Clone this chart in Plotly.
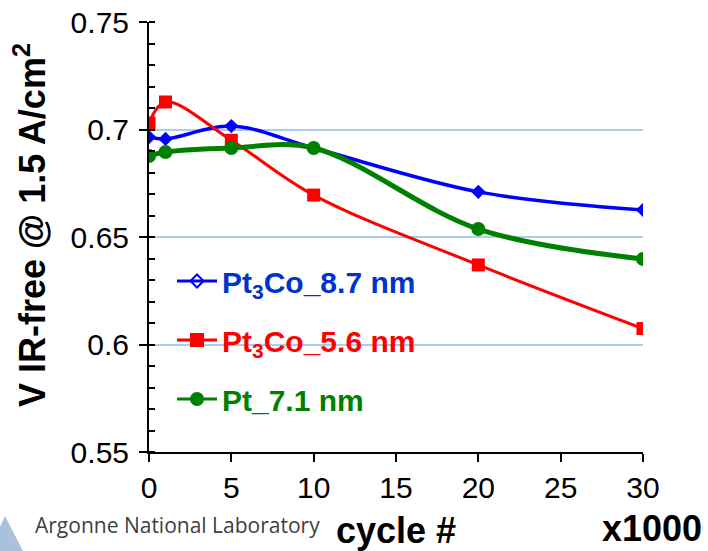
import plotly.graph_objects as go

cycles = [0, 1, 5, 10, 20, 30]
pt3co_87 = [0.6965, 0.6956, 0.7016, 0.6914, 0.6710, 0.6626]
pt3co_56 = [0.7030, 0.7128, 0.6950, 0.6695, 0.6370, 0.6074]
pt_71 = [0.6877, 0.6895, 0.6914, 0.6914, 0.6537, 0.6398]

names = ["Pt<sub>3</sub>Co_8.7 nm", "Pt<sub>3</sub>Co_5.6 nm", "Pt_7.1 nm"]
colors = ["#0000ff", "#ff0000", "#008000"]
text_colors = ["#0033cc", "#ff0000", "#008000"]

L, R, T, B = 149, 65, 22, 99
W, H = 708, 551
PW, PH = W - L - R, H - T - B

def px(x):
    return (x - L) / PW

def py(y):
    return (H - B - y) / PH

fig = go.Figure()

series = [pt3co_87, pt3co_56, pt_71]
symbols = ["diamond", "square", "circle"]
sizes = [11, 13, 14]
widths = [3.5, 3, 5]
leg_symbols = ["diamond-open", "square", "circle"]
leg_sizes = [10, 12, 12]

for i, ys in enumerate(series):
    fig.add_trace(go.Scatter(
        x=cycles, y=ys, mode="lines+markers",
        line=dict(color=colors[i], width=widths[i], shape="spline", smoothing=1.0),
        marker=dict(symbol=symbols[i], size=sizes[i], color=colors[i]),
        showlegend=False, hoverinfo="skip"))

for i in range(3):
    fig.add_trace(go.Scatter(
        x=[None], y=[None], mode="lines+markers",
        name=f'<span style="color:{text_colors[i]}">{names[i]}</span>',
        legendgroup=f"g{i}",
        line=dict(color=colors[i], width=3),
        marker=dict(symbol=leg_symbols[i], size=leg_sizes[i], color=colors[i],
                    line=dict(color=colors[i], width=2))))

fig.update_layout(
    width=W, height=H,
    margin=dict(l=L, r=R, t=T, b=B, autoexpand=False),
    paper_bgcolor="white", plot_bgcolor="white",
    font=dict(family="Liberation Sans, Arial", color="black", size=30),
    legend=dict(x=px(172), y=py(255), xanchor="left", yanchor="top",
                bgcolor="rgba(0,0,0,0)", traceorder="grouped", tracegroupgap=17,
                font=dict(size=30, family="Liberation Sans, Arial", weight="bold"),
                itemwidth=40),
    xaxis=dict(range=[0, 30], tickvals=[0, 5, 10, 15, 20, 25, 30],
               showline=True, linecolor="black", linewidth=2,
               ticks="outside", ticklen=8, tickwidth=2, tickcolor="black",
               showgrid=False, zeroline=False,
               tickfont=dict(size=30)),
    yaxis=dict(range=[0.55, 0.75], tickvals=[0.55, 0.6, 0.65, 0.7, 0.75],
               ticktext=["0.55", "0.6", "0.65", "0.7", "0.75"],
               showline=True, linecolor="black", linewidth=2,
               ticks="outside", ticklen=8, tickwidth=2, tickcolor="black",
               ticklabelstandoff=4,
               minor=dict(dtick=0.01, ticks="inside", ticklen=6, tickwidth=2,
                          tickcolor="black", showgrid=False),
               showgrid=True, gridcolor="#a6cdf5", gridwidth=2,
               zeroline=False, tickfont=dict(size=30)),
)

fig.add_annotation(text="V IR-free @ 1.5 A/cm<sup>2</sup>", textangle=-90,
                   xref="paper", yref="paper", x=px(30), y=py(225),
                   xanchor="center", yanchor="middle",
                   showarrow=False, font=dict(size=36, weight="bold"))
fig.add_annotation(text="cycle #", xref="paper", yref="paper",
                   x=px(396), y=py(530), xanchor="center", yanchor="middle",
                   showarrow=False, font=dict(size=36, weight="bold"))
fig.add_annotation(text="x1000", xref="paper", yref="paper",
                   x=px(652), y=py(528), xanchor="center", yanchor="middle",
                   showarrow=False, font=dict(size=36, weight="bold"))
fig.add_annotation(text="Argonne National Laboratory", xref="paper", yref="paper",
                   x=px(33), y=py(525), xanchor="left", yanchor="middle",
                   showarrow=False,
                   font=dict(size=21, family="Open Sans", color="#404040"))

fig.add_shape(type="path", xref="paper", yref="paper",
              path=f"M {px(0)} {py(527)} L {px(5)} {py(516)} L {px(23)} {py(551)} L {px(0)} {py(551)} Z",
              fillcolor="#a9c1da", line=dict(width=0), layer="above")

fig.write_html("out.html")
